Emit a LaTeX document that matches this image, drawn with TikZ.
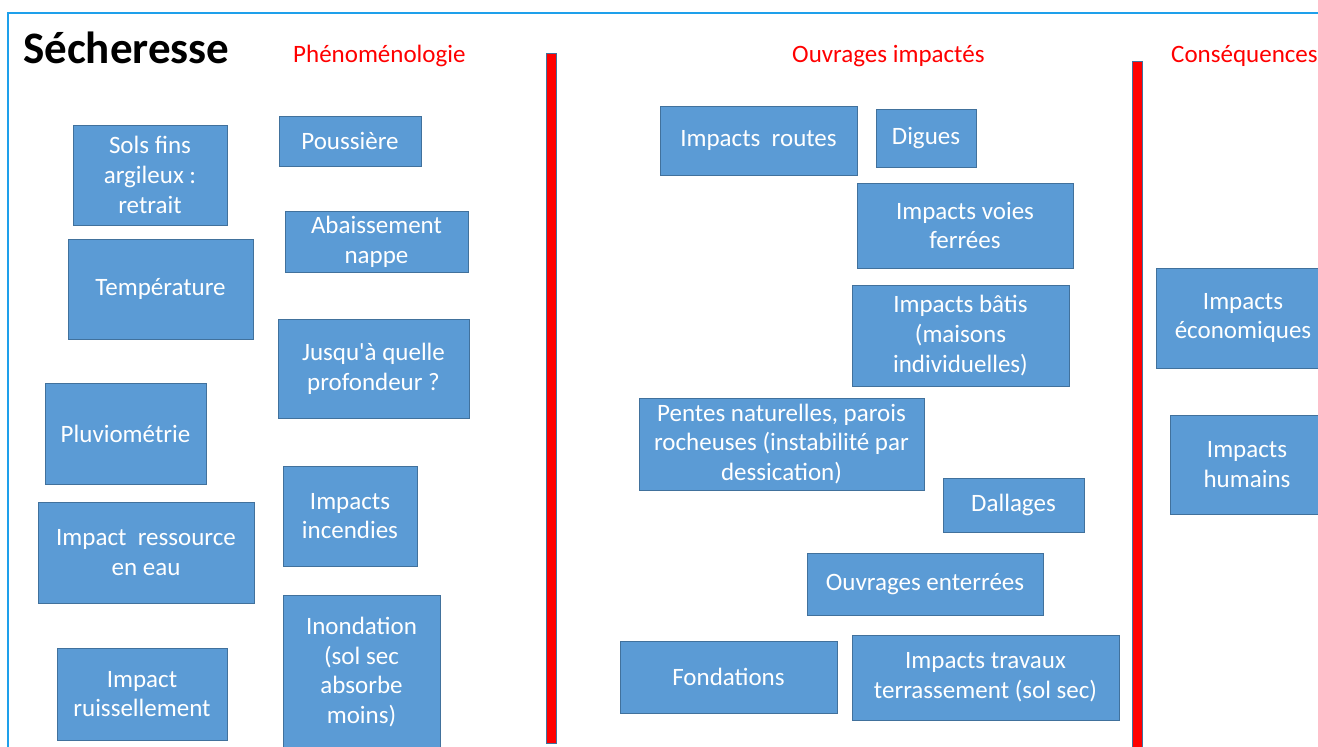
\documentclass[tikz,border=0pt]{standalone}
\usepackage{fontspec}
\setmainfont{Carlito}
\usepackage{xcolor}
\usetikzlibrary{positioning}
\definecolor{boxblue}{RGB}{91,155,213}
\definecolor{boxline}{RGB}{65,113,156}
\definecolor{framecol}{RGB}{30,160,235}

\begin{document}
\begin{tikzpicture}[x=1pt,y=-1pt,
                    box node/.style={rectangle,fill=boxblue,draw=boxline,line width=0.8pt,text=white,
                                     align=center,inner sep=0pt,font=\fontsize{25}{29.8}\selectfont},
                    red bar/.style={fill=red,draw=boxline,line width=1pt},
                    head/.style={text=red,anchor=base west,inner sep=0pt,font=\fontsize{25}{29}\selectfont}]
\path[use as bounding box,clip] (0,0) rectangle (1318,747);

% frame
\draw[framecol,line width=2pt] (8,760) -- (8,13) -- (1330,13);

% titles
\node[anchor=base west,inner sep=0pt,font=\fontsize{45}{50}\selectfont\bfseries] (Title) at (23,63) {Sécheresse};
\node[head] (PhenoLabel) at (293,62) {Phénoménologie};
\node[head] (OuvrLabel) at (792,62) {Ouvrages impactés};
\node[head] (ConsLabel) at (1171,62) {Conséquences};

% separators
\draw[red bar] (546,53) rectangle (556,743);
\draw[red bar] (1132,61) rectangle (1142,760);

% phenomenologie
\node[box node,minimum width=154,minimum height=100] (Sols) at (150,175) {Sols fins\\argileux :\\retrait};
\node[box node,minimum width=142,minimum height=50] (Poussiere) at (350,141) {Poussière};
\node[box node,minimum width=185,minimum height=100] (Temp) at (160.5,289) {Température};
\node[box node,minimum width=183,minimum height=61] (Nappe) at (376.5,241.5) {Abaissement\\nappe};
\node[box node,minimum width=191,minimum height=99] (Profondeur) at (373.5,368.5) {Jusqu\textquotesingle à quelle\\profondeur ?};
\node[box node,minimum width=161,minimum height=101] (Pluvio) at (125.5,433.5) {Pluviométrie};
\node[box node,minimum width=216,minimum height=101] (Ressource) at (146,552.5) {Impact\ \ ressource\\en eau};
\node[box node,minimum width=134,minimum height=100] (Incendies) at (350,516) {Impacts\\incendies};
\node[box node,minimum width=170,minimum height=92] (Ruissel) at (142,694) {Impact\\ruissellement};
\node[box node,minimum width=157,minimum height=154] (Inondation) at (361.5,672) {Inondation\\(sol sec\\absorbe\\moins)};

% ouvrages impactes
\node[box node,minimum width=197,minimum height=69] (Routes) at (758.5,140.5) {Impacts\ \ routes};
\node[box node,minimum width=100,minimum height=58] (Digues) at (926,138) {Digues};
\node[box node,minimum width=216,minimum height=85] (Voies) at (965,225.5) {Impacts voies\\ferrées};
\node[box node,minimum width=217,minimum height=101] (Batis) at (960.5,335.5) {Impacts bâtis\\(maisons\\individuelles)};
\node[box node,minimum width=285,minimum height=92] (Pentes) at (781.5,444) {Pentes naturelles, parois\\rocheuses (instabilité par\\dessication)};
\node[box node,minimum width=141,minimum height=54] (Dallages) at (1013.5,505) {Dallages};
\node[box node,minimum width=236,minimum height=62] (Enterrees) at (925,584) {Ouvrages enterrées};
\node[box node,minimum width=217,minimum height=72] (Fondations) at (728.5,677) {Fondations};
\node[box node,minimum width=267,minimum height=85] (Travaux) at (985.5,677.5) {Impacts travaux\\terrassement (sol sec)};

% consequences
\node[box node,minimum width=174,minimum height=100] (Eco) at (1243,318) {Impacts\\économiques};
\node[box node,minimum width=154,minimum height=99] (Humains) at (1247,464.5) {Impacts\\humains};

\end{tikzpicture}
\end{document}
